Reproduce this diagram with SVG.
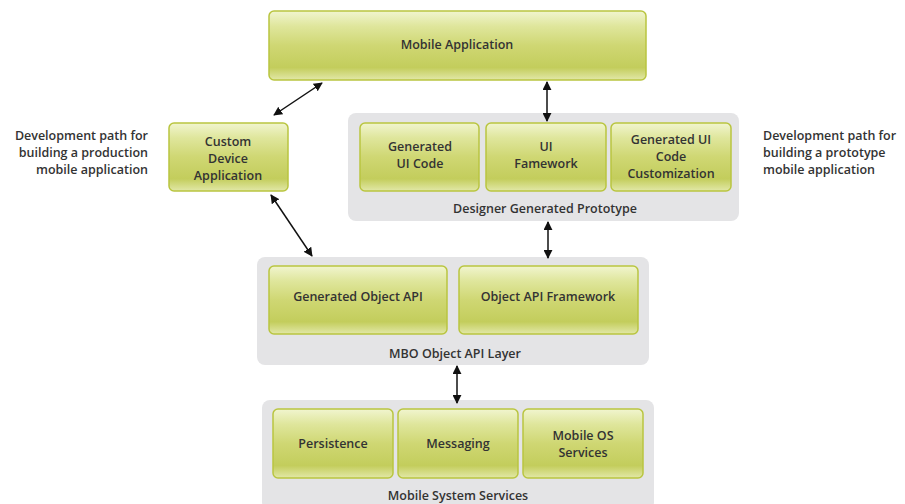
<svg xmlns="http://www.w3.org/2000/svg" width="905" height="504" viewBox="0 0 905 504">
<defs>
<linearGradient id="g" x1="0" y1="0" x2="0" y2="1">
<stop offset="0" stop-color="#f1f5cf"/>
<stop offset="0.22" stop-color="#dfe69c"/>
<stop offset="0.5" stop-color="#cfd773"/>
<stop offset="0.82" stop-color="#c3cd5c"/>
<stop offset="1" stop-color="#e2e8a8"/>
</linearGradient>
<marker id="ah" viewBox="0 0 10 10" refX="9" refY="5" markerWidth="9" markerHeight="9" markerUnits="userSpaceOnUse" orient="auto-start-reverse">
<path d="M0,0 L10,5 L0,10 Z" fill="#111"/>
</marker>
</defs>
<style>
.box{fill:url(#g);stroke:#b9c540;stroke-width:1.5}
.panel{fill:#e4e4e6}
text{font-family:"Open Sans","Liberation Sans",sans-serif;font-weight:600;fill:#333;font-size:12.5px}
.c{text-anchor:middle}
.con{stroke:#111;stroke-width:1.5;fill:none;marker-start:url(#ah);marker-end:url(#ah)}
</style>
<rect width="905" height="504" fill="#fff"/>

<g id="note-left">
<text x="148" y="140" text-anchor="end">Development path for</text>
<text x="148" y="157" text-anchor="end">building a production</text>
<text x="148" y="174" text-anchor="end">mobile application</text>
</g>
<g id="note-right">
<text x="763" y="140">Development path for</text>
<text x="763" y="157">building a prototype</text>
<text x="763" y="174">mobile application</text>
</g>

<g id="mobile-application">
<rect class="box" x="269" y="11" width="377" height="69" rx="5"/>
<text class="c" x="457" y="49">Mobile Application</text>
</g>

<g id="custom-device-application">
<rect class="box" x="169" y="123" width="119" height="68" rx="5"/>
<text class="c" x="228" y="146">Custom</text>
<text class="c" x="228" y="163">Device</text>
<text class="c" x="228" y="180">Application</text>
</g>

<g id="designer-generated-prototype">
<rect class="panel" x="348" y="113" width="391" height="108" rx="8"/>
<text class="c" x="545" y="213">Designer Generated Prototype</text>
<g id="generated-ui-code">
<rect class="box" x="360" y="123" width="119" height="68" rx="5"/>
<text class="c" x="420" y="151">Generated</text>
<text class="c" x="420" y="168">UI Code</text>
</g>
<g id="ui-framework">
<rect class="box" x="486" y="123" width="120" height="68" rx="5"/>
<text class="c" x="546" y="151">UI</text>
<text class="c" x="546" y="168">Famework</text>
</g>
<g id="generated-ui-code-customization">
<rect class="box" x="611" y="123" width="120" height="68" rx="5"/>
<text class="c" x="671" y="144">Generated UI</text>
<text class="c" x="671" y="161">Code</text>
<text class="c" x="671" y="178">Customization</text>
</g>
</g>

<g id="mbo-object-api-layer">
<rect class="panel" x="257" y="257" width="392" height="108" rx="8"/>
<text class="c" x="455" y="358">MBO Object API Layer</text>
<g id="generated-object-api">
<rect class="box" x="269" y="266" width="178" height="68" rx="5"/>
<text class="c" x="358" y="301">Generated Object API</text>
</g>
<g id="object-api-framework">
<rect class="box" x="459" y="266" width="179" height="68" rx="5"/>
<text class="c" x="548" y="301">Object API Framework</text>
</g>
</g>

<g id="mobile-system-services">
<rect class="panel" x="262" y="400" width="392" height="110" rx="8"/>
<text class="c" x="458" y="500">Mobile System Services</text>
<g id="persistence">
<rect class="box" x="273" y="409" width="120" height="69" rx="5"/>
<text class="c" x="333" y="448">Persistence</text>
</g>
<g id="messaging">
<rect class="box" x="398" y="409" width="120" height="69" rx="5"/>
<text class="c" x="458" y="448">Messaging</text>
</g>
<g id="mobile-os-services">
<rect class="box" x="523" y="409" width="120" height="69" rx="5"/>
<text class="c" x="583" y="440">Mobile OS</text>
<text class="c" x="583" y="457">Services</text>
</g>
</g>

<g id="connectors">
<line class="con" x1="274" y1="115" x2="322" y2="83"/>
<line class="con" x1="547" y1="82" x2="547" y2="121"/>
<line class="con" x1="271" y1="195" x2="312" y2="256"/>
<line class="con" x1="548" y1="222" x2="548" y2="258"/>
<line class="con" x1="457" y1="366" x2="457" y2="403"/>
</g>
</svg>
